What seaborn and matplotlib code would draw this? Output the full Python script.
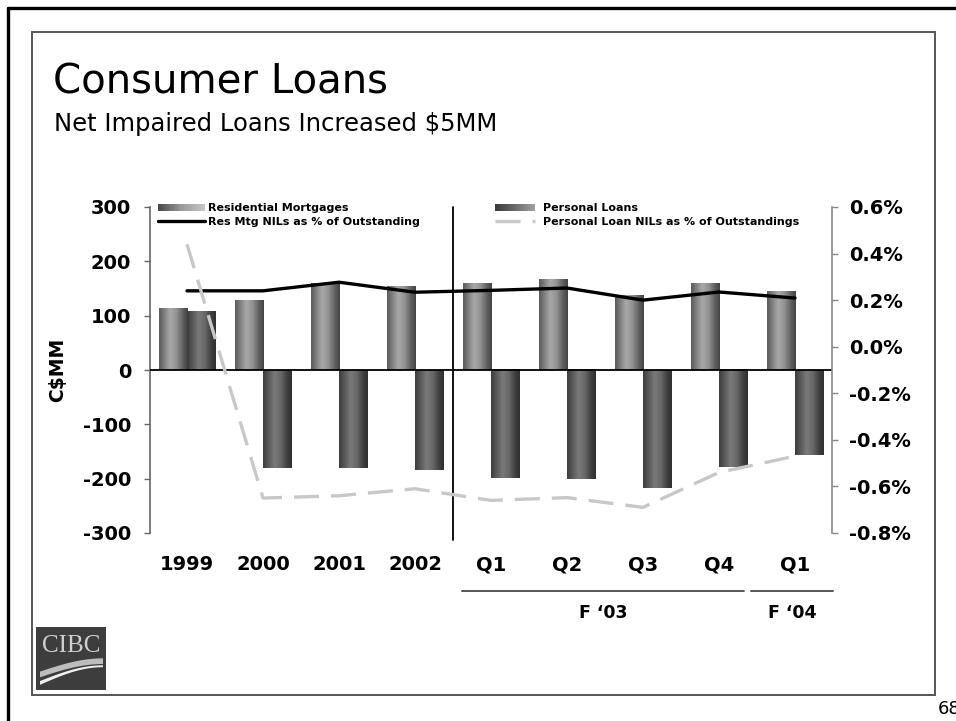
import numpy as np
import pandas as pd
import matplotlib
matplotlib.use("Agg")
import matplotlib.pyplot as plt
import matplotlib.transforms as mtransforms
import seaborn as sns
from matplotlib.colors import LinearSegmentedColormap
from matplotlib.legend_handler import HandlerBase
from matplotlib.patches import Rectangle
from matplotlib.lines import Line2D

# ---- data -------------------------------------------------------------
periods = ["1999", "2000", "2001", "2002", "Q1 F03", "Q2 F03", "Q3 F03", "Q4 F03", "Q1 F04"]
tick_labels = ["1999", "2000", "2001", "2002", "Q1", "Q2", "Q3", "Q4", "Q1"]
series_names = ["Residential Mortgages", "Personal Loans"]
res_mortgages = [114, 127, 160, 153, 160, 167, 138, 160, 144]          # C$MM
personal_loans = [107, -180, -180, -184, -199, -201, -217, -179, -156]  # C$MM
line_names = ["Res Mtg NILs as % of Outstanding",
              "Personal Loan NILs as % of Outstandings"]
res_nil_pct = [0.24, 0.24, 0.277, 0.234, 0.242, 0.252, 0.20, 0.235, 0.209]
personal_nil_pct = [0.44, -0.65, -0.64, -0.61, -0.66, -0.648, -0.69, -0.54, -0.47]
left_ticks = [-300, -200, -100, 0, 100, 200, 300]
right_ticks = [-0.8, -0.6, -0.4, -0.2, 0.0, 0.2, 0.4, 0.6]
fiscal_labels = ["F \u201803", "F \u201804"]
fiscal_spans = [("Q1 F03", "Q4 F03"), ("Q1 F04", "Q1 F04")]

# ---- figure ------------------------------------------------------------
sns.set_theme(style="white")
plt.rcParams["font.family"] = ["DejaVu Sans"]
plt.rcParams.update({"text.color": "black", "axes.labelcolor": "black",
                     "xtick.color": "black", "ytick.color": "black"})

W, H = 956, 721
fig = plt.figure(figsize=(W / 100, H / 100), dpi=100, facecolor="white")


def fx(px):
    return px / W


def fy(py):
    return 1 - py / H


ax = fig.add_axes([fx(150), fy(533), fx(832) - fx(150), fy(207) - fy(533)])
ax.set_facecolor("none")

n = len(periods)
df = pd.DataFrame({
    "period": periods * 2,
    "series": [series_names[0]] * n + [series_names[1]] * n,
    "value": res_mortgages + personal_loans,
})
sns.barplot(data=df, x="period", y="value", hue="series", order=periods,
            hue_order=series_names, width=0.74, gap=0, dodge=True,
            palette=["#909090", "#5a5a5a"], saturation=1, legend=False,
            edgecolor="none", linewidth=0, ax=ax)

# cylinder-style shading for each bar
res_cmap = LinearSegmentedColormap.from_list(
    "res", [(0, "#5a5a5a"), (0.38, "#a8a8a8"), (0.6, "#939393"), (0.85, "#5c5c5c"), (1, "#444444")])
per_cmap = LinearSegmentedColormap.from_list(
    "per", [(0, "#3c3c3c"), (0.4, "#7a7a7a"), (0.62, "#686868"), (0.85, "#3e3e3e"), (1, "#303030")])
grad = np.linspace(0, 1, 128)[None, :]
for container, cmap in zip(ax.containers, [res_cmap, per_cmap]):
    for bar in container:
        x0, w = bar.get_x(), bar.get_width()
        y0, h = bar.get_y(), bar.get_height()
        ax.imshow(grad, extent=(x0, x0 + w, min(y0, y0 + h), max(y0, y0 + h)),
                  aspect="auto", cmap=cmap, interpolation="bilinear", zorder=2)
        bar.set_facecolor("none")

ax.axhline(0, color="black", lw=1.3, zorder=3)
ax.axvline(3.5, ymin=-0.022, ymax=1.0, color="black", lw=1.3, clip_on=False, zorder=3)

# left axis
ax.set_xlim(-0.487, n - 1 + 0.487)
ax.set_ylim(-300, 300)
ax.set_yticks(left_ticks)
ax.set_yticklabels([str(v) for v in left_ticks], fontweight="bold", fontsize=14)
ax.set_xticks(range(n))
ax.set_xticklabels(tick_labels, fontweight="bold", fontsize=14)
ax.set_xlabel("")
ax.set_ylabel("C$MM", fontweight="bold", fontsize=13.5)
ax.yaxis.set_label_coords(-0.122, 0.5)
ax.tick_params(axis="y", direction="out", length=4.5, width=1, color="#666666",
               labelcolor="black", pad=9, left=True)
ax.tick_params(axis="x", length=0, pad=16, labelcolor="black")
for side in ["top", "bottom", "right"]:
    ax.spines[side].set_visible(False)
ax.spines["left"].set_color("#666666")
ax.spines["left"].set_linewidth(1.2)

# right axis with NIL ratios
ax2 = ax.twinx()
x_pos = np.arange(n)
sns.lineplot(x=x_pos, y=res_nil_pct, color="black", lw=2.4, ax=ax2, legend=False)
sns.lineplot(x=x_pos, y=personal_nil_pct, color="#c8c8c8", lw=2.4, ax=ax2, legend=False)
res_line, per_line = ax2.lines[0], ax2.lines[1]
per_line.set_dashes((7.5, 3.6))
per_line.set_dash_capstyle("butt")
ax2.set_ylim(-0.8, 0.6)
ax2.set_xlim(ax.get_xlim())
ax2.set_yticks(right_ticks)
ax2.set_yticklabels([f"{v:.1f}%" if abs(v) > 1e-9 else "0.0%" for v in right_ticks],
                    fontweight="bold", fontsize=14)
ax2.set_ylabel("")
ax2.tick_params(axis="y", direction="out", length=4.5, width=1, color="#888888",
                labelcolor="black", pad=8, right=True)
for side in ["top", "bottom", "left"]:
    ax2.spines[side].set_visible(False)
ax2.spines["right"].set_color("#888888")
ax2.spines["right"].set_linewidth(1.2)

# fiscal year grouping under the quarter labels
blend = mtransforms.blended_transform_factory(ax.transData, ax.transAxes)
span_pad = [(-0.38, 0.33), (-0.58, 0.5)]
for label, (a, b), (pa, pb) in zip(fiscal_labels, fiscal_spans, span_pad):
    xa, xb = periods.index(a) + pa, periods.index(b) + pb
    ax.add_line(Line2D([xa, xb], [-0.178, -0.178], transform=blend, color="#555555",
                       lw=1.4, clip_on=False))
    ax.text((xa + xb) / 2, -0.245, label, transform=blend, ha="center", va="center",
            fontweight="bold", fontsize=12.5, color="black")


# legend
class GradientHandle(HandlerBase):
    def __init__(self, cmap):
        super().__init__()
        self.cmap = cmap

    def create_artists(self, legend, orig_handle, xdescent, ydescent, width,
                       height, fontsize, trans):
        steps = 30
        arts = []
        for i in range(steps):
            arts.append(Rectangle((-xdescent + width * i / steps, -ydescent + height * 0.05),
                                  width / steps * 1.08, height * 0.9,
                                  facecolor=self.cmap(i / (steps - 1)), edgecolor="none",
                                  transform=trans))
        return arts


res_leg_cmap = LinearSegmentedColormap.from_list("rl", ["#4a4a4a", "#9a9a9a", "#c4c4c4"])
per_leg_cmap = LinearSegmentedColormap.from_list("pl", ["#3a3a3a", "#6a6a6a", "#a0a0a0"])
res_proxy = Rectangle((0, 0), 1, 1)
per_proxy = Rectangle((0, 0), 1, 1)
leg_font = {"weight": "bold", "size": 8}
fig.legend([res_proxy, res_line], [series_names[0], line_names[0]],
           handler_map={res_proxy: GradientHandle(res_leg_cmap)},
           loc="upper left", bbox_to_anchor=(fx(158), fy(203)), frameon=False,
           borderpad=0, borderaxespad=0, handlelength=4.2, handletextpad=0.3,
           labelspacing=0.35, prop=leg_font, labelcolor="black")
fig.legend([per_proxy, per_line], [series_names[1], line_names[1]],
           handler_map={per_proxy: GradientHandle(per_leg_cmap)},
           loc="upper left", bbox_to_anchor=(fx(495), fy(203)), frameon=False,
           borderpad=0, borderaxespad=0, handlelength=3.6, handletextpad=0.7,
           labelspacing=0.35, prop=leg_font, labelcolor="black")

# titles
fig.text(fx(53), fy(94), "Consumer Loans", fontsize=29, va="baseline", ha="left",
         color="black")
fig.text(fx(54), fy(131), "Net Impaired Loans Increased $5MM", fontsize=17.5,
         va="baseline", ha="left", color="black")

# slide frames
fig.add_artist(Line2D([fx(8), 1], [fy(8), fy(8)], color="black", lw=2.4))
fig.add_artist(Line2D([fx(8), fx(8)], [fy(8), 0], color="black", lw=2.4))
fig.add_artist(Rectangle((fx(32), fy(695)), fx(935) - fx(32), fy(32) - fy(695),
                         fill=False, edgecolor="#555555", lw=1.4,
                         transform=fig.transFigure))
fig.text(fx(938), fy(709), "68", fontsize=13, va="center", ha="left", color="black")

# bank logo
logo = fig.add_axes([fx(36), fy(690), fx(106) - fx(36), fy(627) - fy(690)])
logo.set_xlim(0, 1)
logo.set_ylim(0, 1)
logo.axis("off")
logo.add_patch(Rectangle((0, 0), 1, 1, facecolor="#3d3d3d", edgecolor="none"))
logo.text(0.5, 0.7, "CIBC", ha="center", va="center", family="Liberation Serif",
          fontsize=18, color="#cfcfcf")
t = np.linspace(0, 1, 60)
s = np.sin(t * np.pi / 2)
xs = 0.05 + 0.9 * t
logo.fill_between(xs, 0.21 + 0.21 * s, 0.30 + 0.21 * s, color="#bdbdbd", lw=0)
logo.fill_between(xs, 0.09 + 0.28 * s, 0.15 + 0.25 * s, color="#f0f0f0", lw=0)

fig.savefig("out.png", dpi=100, facecolor="white")
